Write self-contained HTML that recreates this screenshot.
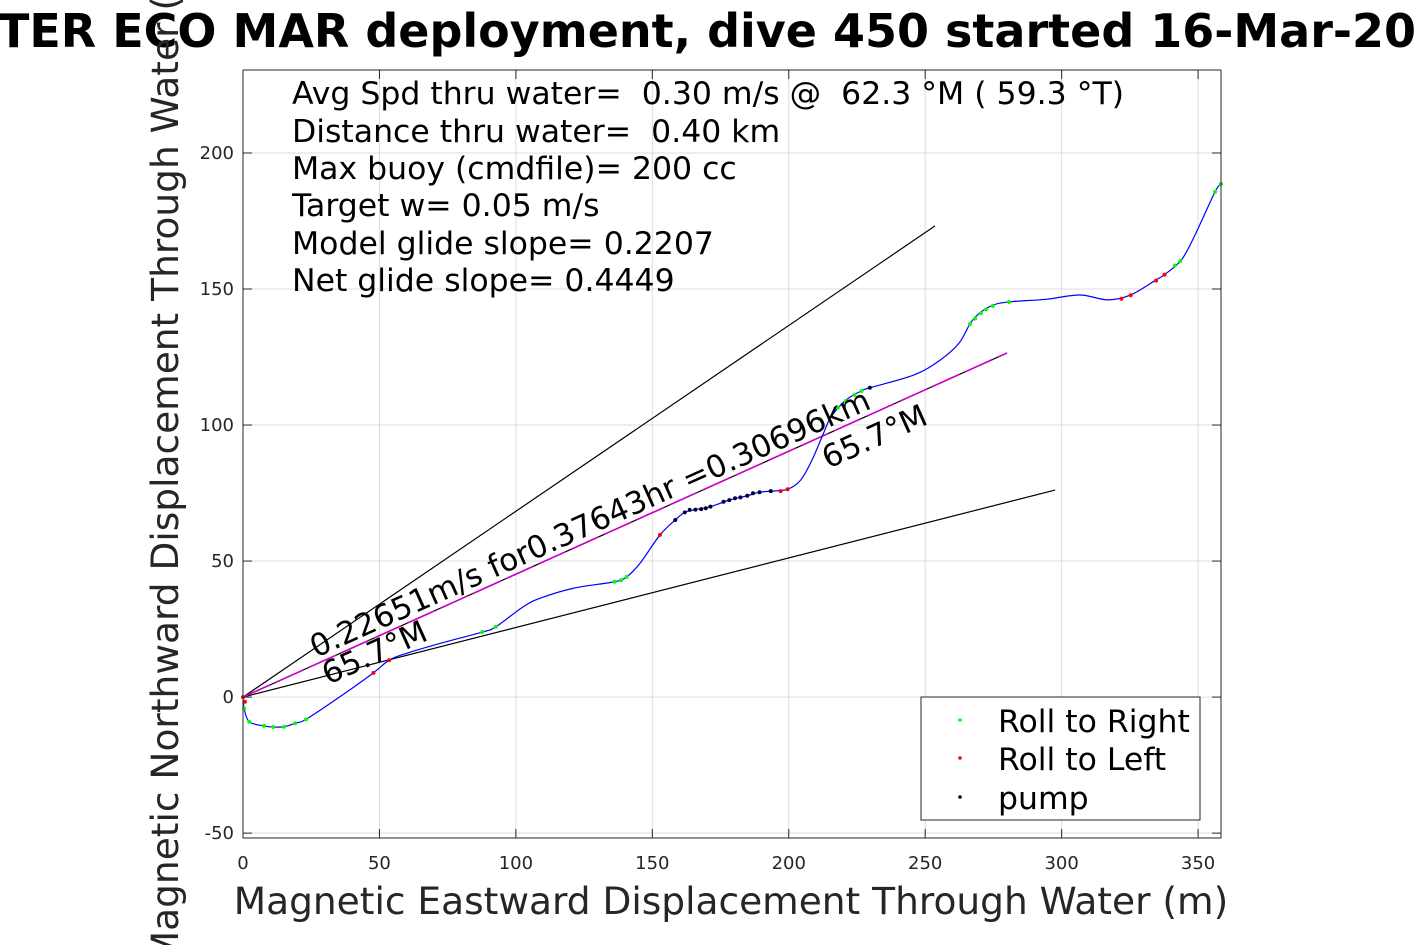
<!DOCTYPE html>
<html><head><meta charset="utf-8"><style>
html,body{margin:0;padding:0;background:#fff;}
svg{display:block;font-family:"DejaVu Sans","Liberation Sans",sans-serif;}
</style></head><body>
<svg id="chart" width="1417" height="945" viewBox="0 0 1417 945" xmlns="http://www.w3.org/2000/svg">
<rect x="0" y="0" width="1417" height="945" fill="#fff"/>
<text x="-2" y="47" font-size="46" font-weight="bold" fill="#000">TER ECO MAR deployment, dive 450 started 16-Mar-2023</text>
<rect x="243" y="70" width="978" height="768" fill="#fff"/>
<g id="grid"></g>
<g id="marks"></g>
<rect x="243" y="70" width="978" height="768" fill="none" stroke="#262626" stroke-width="1"/>
<g id="ticks"></g>
<g font-size="31.5" fill="#000">
<text x="292" y="104" xml:space="preserve">Avg Spd thru water=  0.30 m/s @  62.3 °M ( 59.3 °T)</text>
<text x="292" y="142" xml:space="preserve">Distance thru water=  0.40 km</text>
<text x="292" y="179">Max buoy (cmdfile)= 200 cc</text>
<text x="292" y="216">Target w= 0.05 m/s</text>
<text x="292" y="254">Model glide slope= 0.2207</text>
<text x="292" y="291">Net glide slope= 0.4449</text>
</g>
<text font-size="31" transform="translate(316,658) rotate(-24.2)">0.22651m/s for0.37643hr =0.30696km</text>
<text font-size="31" transform="translate(328,685) rotate(-24.2)">65.7°M</text>
<text font-size="31" transform="translate(828,469) rotate(-24.2)">65.7°M</text>
<g>
<rect x="921" y="697" width="279" height="123" fill="#fff" stroke="#262626" stroke-width="1"/>
<circle cx="960" cy="720" r="1.8" fill="#00ff00"/>
<text x="998" y="732" font-size="31.5">Roll to Right</text>
<circle cx="960" cy="758" r="1.8" fill="#ff0000"/>
<text x="998" y="770" font-size="31.5">Roll to Left</text>
<circle cx="960" cy="797" r="1.8" fill="#000"/>
<text x="998" y="809" font-size="31.5">pump</text>
</g>
<text x="731" y="914" font-size="37.5" text-anchor="middle" fill="#262626">Magnetic Eastward Displacement Through Water (m)</text>
<text transform="translate(178,454) rotate(-90)" font-size="37.5" text-anchor="middle" fill="#262626">Magnetic Northward Displacement Through Water (m)</text>
</svg>
<script>
const xTicks = [0, 50, 100, 150, 200, 250, 300, 350];
const yTicks = [-50, 0, 50, 100, 150, 200];
const trackX = [0,0.4,2.3,7.7,11.1,15.1,19.1,23.1,35.5,47.8,53.6,60.0,72.2,87.7,92.6,102.7,108.8,121.1,136.2,140.6,145.5,152.8,158.4,161.9,165.8,171.3,178.2,184.8,189.3,193.4,199.6,204.4,208.5,212.7,215.5,221.0,226.5,229.7,245.9,255.5,262.4,266.6,270.0,274.9,281.1,294.2,306.6,317.0,325.3,334.2,337.7,343.9,348.9,356.2,358.4];
const trackY = [0,-4.2,-9.1,-10.6,-11.0,-10.9,-9.6,-8.2,0.1,8.9,13.6,16.1,19.7,23.9,25.8,33.2,36.3,40.0,42.4,44.2,49.2,59.6,65.1,67.9,68.9,70.0,72.4,74.0,75.3,75.7,76.4,79.8,87.1,96.9,103.0,109.2,112.5,113.7,118.4,123.9,130.1,137.5,141.2,144.1,145.3,146.2,147.8,146.0,147.8,153.1,155.3,160.7,169.9,185.7,188.6];
const rightX = [0.4,2.3,7.7,11.1,15.1,19.1,23.1,87.7,92.6,136.2,138.6,140.6,218.0,220.9,224.1,226.7,266.4,268.3,270.4,272.3,274.8,280.7,341.5,343.5,356.2,358.4];
const rightY = [-4.2,-9.1,-10.6,-11.0,-10.9,-9.6,-8.2,23.9,25.8,42.4,43.0,44.2,106.4,108.8,111.1,112.5,137.1,139.1,141.1,142.5,143.8,145.2,158.6,160.3,185.7,188.6];
const leftX = [0,0.7,47.8,53.6,152.8,197.0,199.6,321.9,325.3,334.6,337.7];
const leftY = [0,-1.7,8.9,13.6,59.6,75.7,76.4,146.4,147.7,153.1,155.3];
const pumpX = [158.4,161.9,163.7,165.8,167.9,169.6,171.3,176.1,178.2,180.3,182.3,184.8,186.9,189.3,193.4,229.7];
const pumpY = [65.1,67.9,68.8,68.9,69.1,69.4,70.0,71.8,72.4,73.1,73.4,74.0,74.9,75.3,75.7,113.7];
const refEndX = [253.6, 297.6, 280.0];
const refEndY = [173.2, 76.1, 126.5];

const X0=243, X1=1221, Y0=838, Y1=70, xmin=0, xmax=358.4, ymin=-51.8, ymax=230.5;
function sx(v){return X0+(v-xmin)/(xmax-xmin)*(X1-X0);}
function sy(v){return Y0-(v-ymin)/(ymax-ymin)*(Y0-Y1);}
const NS="http://www.w3.org/2000/svg";
function mk(tag,attrs,parent){const e=document.createElementNS(NS,tag);for(const k in attrs)e.setAttribute(k,attrs[k]);parent.appendChild(e);return e;}
const grid=document.getElementById('grid'), marks=document.getElementById('marks'), ticks=document.getElementById('ticks');
xTicks.forEach(t=>{
  const g=mk('line',{x1:sx(t),x2:sx(t),y1:Y1,y2:Y0,stroke:'#dcdcdc','stroke-width':1},grid);
  
  
  const tk=mk('line',{x1:sx(t),x2:sx(t),y1:Y0,y2:Y0-9,stroke:'#262626'},ticks);
  
  
  const tk2=mk('line',{x1:sx(t),x2:sx(t),y1:Y1,y2:Y1+9,stroke:'#262626'},ticks);
  
  
  const l=mk('text',{x:sx(t),y:869,'font-size':18,'text-anchor':'middle',fill:'#262626'},ticks);
  l.textContent=t;
  
  
});
yTicks.forEach(t=>{
  const g=mk('line',{x1:X0,x2:X1,y1:sy(t),y2:sy(t),stroke:'#dcdcdc','stroke-width':1},grid);
  
  
  const tk=mk('line',{x1:X0,x2:X0+9,y1:sy(t),y2:sy(t),stroke:'#262626'},ticks);
  
  
  const tk2=mk('line',{x1:X1,x2:X1-9,y1:sy(t),y2:sy(t),stroke:'#262626'},ticks);
  
  
  const l=mk('text',{x:234,y:sy(t)+6,'font-size':18,'text-anchor':'end',fill:'#262626'},ticks);
  l.textContent=t;
  
  
});
refEndX.forEach((v,i)=>{
  const ln=mk('line',{x1:sx(0),y1:sy(0),x2:sx(v),y2:sy(refEndY[i]),stroke:'#000','stroke-width':1.2},marks);
  
  
});
const mg=mk('line',{x1:sx(0),y1:sy(0),x2:sx(refEndX[2]),y2:sy(refEndY[2]),stroke:'#cc00cc','stroke-width':1.6,'stroke-dasharray':'30 6'},marks);


const P=trackX.map((v,i)=>[sx(v),sy(trackY[i])]);
let d='M'+P[0][0]+','+P[0][1];
for(let i=0;i<P.length-1;i++){
  const p0=P[Math.max(0,i-1)],p1=P[i],p2=P[i+1],p3=P[Math.min(P.length-1,i+2)];
  const c1=[p1[0]+(p2[0]-p0[0])/6,p1[1]+(p2[1]-p0[1])/6];
  const c2=[p2[0]-(p3[0]-p1[0])/6,p2[1]-(p3[1]-p1[1])/6];
  d+=' C'+c1[0]+','+c1[1]+' '+c2[0]+','+c2[1]+' '+p2[0]+','+p2[1];
}
const tr=mk('path',{d:d,fill:'none',stroke:'#0000ff','stroke-width':1.2},marks);


function dots(xs,ys,col,name){xs.forEach((v,i)=>{
  const c=mk('circle',{cx:sx(v),cy:sy(ys[i]),r:2,fill:col},marks);
  
  
});}
dots(rightX,rightY,'#00ff00','roll-right-point');
dots(leftX,leftY,'#ff0000','roll-left-point');
dots(pumpX,pumpY,'#000033','pump-point');
</script>
</body></html>
